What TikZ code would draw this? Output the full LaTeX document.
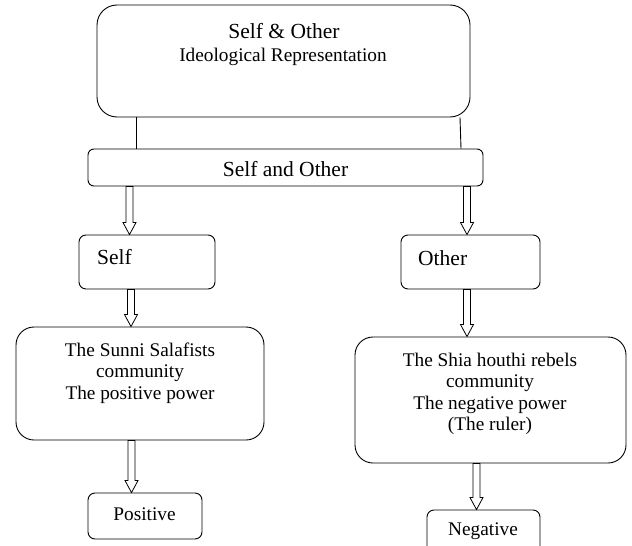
\documentclass[tikz,border=0pt]{standalone}
\usepackage{fontspec}
\setmainfont{Liberation Serif}
\usetikzlibrary{calc}
\begin{document}
\begin{tikzpicture}[x=1pt,y=-1pt,
 box/.style={draw, line width=0.9pt, rounded corners=#1, inner sep=0pt},
 box/.default=7pt,
 big/.style={font=\fontsize{21.5}{25}\selectfont, inner sep=0pt},
 txt/.style={font=\fontsize{19.3}{21.5}\selectfont, inner sep=0pt, align=center},
 conn/.style={line width=0.9pt},
 hollow/.style={line width=0.8pt, fill=white, to path={let \p1=(\tikztostart), \p2=(\tikztotarget) in
   ({\x1-3.5pt},\y1) -- ({\x1-3.5pt},{\y2+12pt}) -- ({\x1-6.5pt},{\y2+12pt}) -- (\x1,\y2) -- ({\x1+6.5pt},{\y2+12pt}) -- ({\x1+3.5pt},{\y2+12pt}) -- ({\x1+3.5pt},\y1) -- cycle}}
]
\useasboundingbox (0,0) rectangle (632,546);
\clip (0,0) rectangle (632,546);

% boxes
\node[box=20pt, minimum width=373pt, minimum height=112pt] (top) at (283.5,61) {};
\node[big, anchor=base] (toptitle) at (284,38.5) {Self \& Other};
\node[txt, anchor=base] (topsub) at (283,61) {Ideological Representation};

\node[box=6pt, minimum width=395pt, minimum height=37pt] (bar) at (285.5,167.5) {};
\node[big, anchor=base] (bartext) at (285.5,176.7) {Self and Other};

\node[box=7pt, minimum width=136pt, minimum height=54pt] (self) at (147,262) {};
\node[big, anchor=base west] (selftext) at (97,264) {Self};

\node[box=7pt, minimum width=139pt, minimum height=54pt] (other) at (470.5,262) {};
\node[big, anchor=base west] (othertext) at (418,265) {Other};

\node[box=18pt, minimum width=248pt, minimum height=113pt] (sunni) at (140,383.5) {};
\node[txt, anchor=north] (sunnitext) at (140,342.7) {The Sunni Salafists\\community\\The positive power};

\node[box=18pt, minimum width=271pt, minimum height=126pt] (shia) at (490.5,400) {};
\node[txt, anchor=north] (shiatext) at (490,352.7) {The Shia houthi rebels\\community\\The negative power\\(The ruler)};

\node[box=7pt, minimum width=114pt, minimum height=46pt] (pos) at (145,516) {};
\node[txt, anchor=base] (postext) at (144.5,520) {Positive};

\node[box=7pt, minimum width=113pt, minimum height=46pt] (neg) at (483.5,533) {};
\node[txt, anchor=base] (negtext) at (483,535) {Negative};

% plain connectors
\coordinate (l1) at (136,0);
\coordinate (r1) at (460,0);
\coordinate (r2) at (461,0);
\draw[conn] (top.south -| l1) -- (bar.north -| l1);
\draw[conn] (top.south -| r1) -- (bar.north -| r2);

% hollow arrows
\coordinate (a1) at (129.5,0);
\coordinate (a2) at (467,0);
\coordinate (a3) at (131,0);
\coordinate (a4) at (467,0);
\coordinate (a5) at (131.5,0);
\coordinate (a6) at (476.5,0);
\draw[hollow] (bar.south -| a1) to (self.north -| a1);
\draw[hollow] (bar.south -| a2) to (other.north -| a2);
\draw[hollow] (self.south -| a3) to (sunni.north -| a3);
\draw[hollow] (other.south -| a4) to (shia.north -| a4);
\draw[hollow] (sunni.south -| a5) to (pos.north -| a5);
\draw[hollow] (shia.south -| a6) to (neg.north -| a6);
\end{tikzpicture}
\end{document}
